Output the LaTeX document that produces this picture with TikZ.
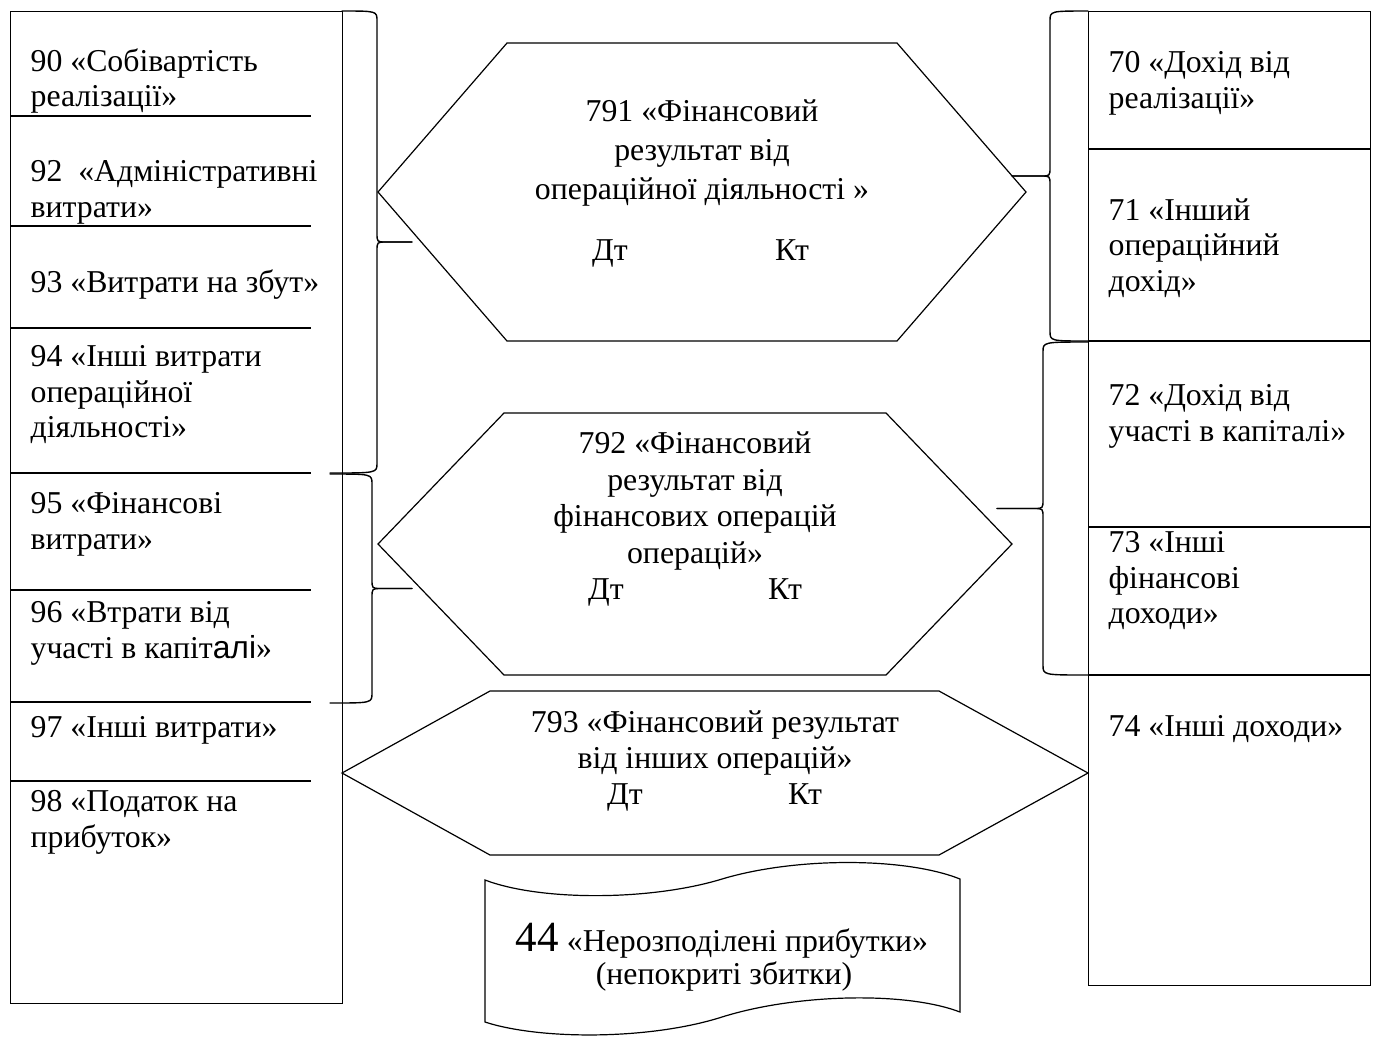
\documentclass[tikz,border=0pt]{standalone}
\usepackage{fontspec}
\setmainfont{Liberation Serif}
\newfontfamily\sansalt{Liberation Sans}
\usetikzlibrary{calc}
\usetikzlibrary{positioning}
\tikzset{
  acc/.style={anchor=north west, inner sep=0pt, align=left,
    font=\fontsize{15.9}{17.8}\selectfont},
  hextext/.style={anchor=north, inner sep=0pt, align=center,
    font=\fontsize{15.9}{18.4}\selectfont},
  side/.style={anchor=base, inner sep=0pt, font=\fontsize{15.9}{17.8}\selectfont},
  accbox/.style={draw, anchor=north west, inner sep=0pt},
  brace line/.style={line width=0.7pt, line join=round, line cap=round}
}

\begin{document}
\begin{tikzpicture}[x=0.5pt, y=-0.5pt, line width=0.6pt]
  \useasboundingbox (0,0) rectangle (1376,1041);

  \node[accbox, minimum width=166pt, minimum height=496pt] (debit) at (10,11) {};
  \node[accbox, minimum width=141pt, minimum height=487pt] (credit) at (1088,11) {};
  \foreach \y in {116,226,328,473,590,702,781}
    \draw (10,\y) -- (311,\y);
  \foreach \y in {149,341,527,675}
    \draw (1088,\y) -- (1370,\y);

  \node[acc] (a90) at (30,48) {90 «Собівартість\\реалізації»};
  \node[acc] (a92) at (30,160) {92~~«Адміністративні\\витрати»};
  \node[acc] (a93) at (30,269) {93 «Витрати на збут»};
  \node[acc] (a94) at (30,345) {94 «Інші витрати\\операційної\\діяльності»};
  \node[acc] (a95) at (30,492) {95 «Фінансові\\витрати»};
  \node[acc] (a96) at (30,601) {96 «Втрати від\\участі в капіт{\sansalt алі}»};
  \node[acc] (a97) at (30,716) {97 «Інші витрати»};
  \node[acc] (a98) at (30,790) {98 «Податок на\\прибуток»};

  \node[acc] (a70) at (1108,51) {70 «Дохід від\\реалізації»};
  \node[acc] (a71) at (1108,198) {71 «Інший\\операційний\\дохід»};
  \node[acc] (a72) at (1108,384) {72 «Дохід від\\участі в капіталі»};
  \node[acc] (a73) at (1108,531) {73 «Інші\\фінансові\\доходи»};
  \node[acc] (a74) at (1108,715) {74 «Інші доходи»};

  \draw (378,192) -- (507,43) -- (897,43) -- (1026,192) -- (897,341) -- (507,341) -- cycle;
  \draw (378,544) -- (504,413) -- (886,413) -- (1012,544) -- (886,675) -- (504,675) -- cycle;
  \draw (342,773) -- (490,691) -- (939,691) -- (1088,773) -- (939,855) -- (490,855) -- cycle;

  \node[hextext, font=\fontsize{15.9}{19.5}\selectfont] (t791) at (702,99)
    {791 «Фінансовий\\результат від\\операційної діяльності »};
  \node[side] (d791) at (610,260) {Дт};
  \node[side] (k791) at (792,260) {Кт};
  \node[hextext] (t792) at (695,431)
    {792 «Фінансовий\\результат від\\фінансових операцій\\операцій»};
  \node[side] (d792) at (606,599) {Дт};
  \node[side] (k792) at (785,599) {Кт};
  \node[hextext, font=\fontsize{15.9}{18}\selectfont] (t793) at (715,710)
    {793 «Фінансовий результат\\від інших операцій»};
  \node[side] (d793) at (625,804) {Дт};
  \node[side] (k793) at (805,804) {Кт};

  \foreach \xa/\xc/\ya/\yb/\xb/\xt/\s in {342/330/11/473/377/412/1, 330/330/474/703/372/412/1,
      1088/1088/11/341/1050/1012/-1, 1088/1088/342/675/1043/997/-1} {
    \pgfmathsetmacro\ym{(\ya+\yb)/2}
    \draw[brace line] (\xa,\ya) .. controls (\xb,\ya) .. (\xb,\ya+10) -- (\xb,\ym-9)
      .. controls (\xb,\ym) .. (\xb+\s*9,\ym) -- (\xt,\ym);
    \draw[brace line] (\xt,\ym) -- (\xb+\s*9,\ym) .. controls (\xb,\ym) .. (\xb,\ym+9)
      -- (\xb,\yb-10) .. controls (\xb,\yb) .. (\xc,\yb);
  }

  \draw (485,880) .. controls (540,901) and (650,901) .. (722,879)
    .. controls (795,857) and (905,857) .. (960,879) -- (960,1012)
    .. controls (905,991) and (795,994) .. (722,1017)
    .. controls (650,1040) and (540,1040) .. (485,1022) -- cycle;
  \node[side] (n44) at (722,951) {{\fontsize{21.5}{21.5}\selectfont 44} «Нерозподілені прибутки»};
  \node[side] (n44b) at (724,984) {(непокриті збитки)};
\end{tikzpicture}
\end{document}
